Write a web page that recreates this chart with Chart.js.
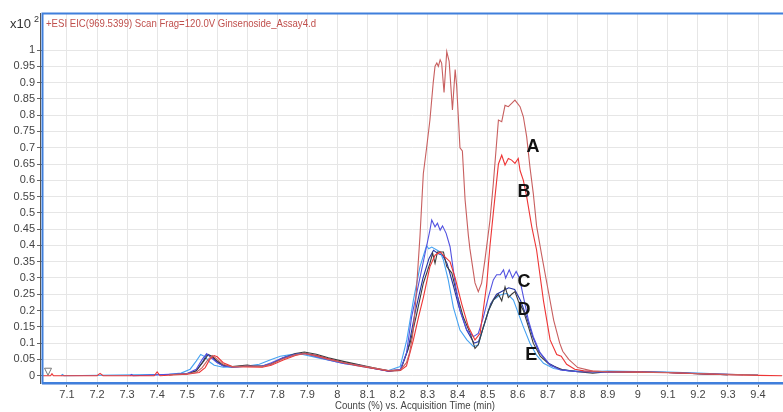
<!DOCTYPE html>
<html>
<head>
<meta charset="utf-8">
<script src="https://cdn.jsdelivr.net/npm/chart.js@4.4.1/dist/chart.umd.min.js"></script>
<style>
html,body{margin:0;padding:0;background:#fff;overflow:hidden;}
canvas{display:block;}
</style>
</head>
<body>
<canvas id="c" width="783" height="412"></canvas>
<script>
// ---- data (time in min, counts x10^2) ----
const xTicks = [7.1,7.2,7.3,7.4,7.5,7.6,7.7,7.8,7.9,8.0,8.1,8.2,8.3,8.4,8.5,8.6,8.7,8.8,8.9,9.0,9.1,9.2,9.3,9.4];
const yTicks = [0,0.05,0.1,0.15,0.2,0.25,0.3,0.35,0.4,0.45,0.5,0.55,0.6,0.65,0.7,0.75,0.8,0.85,0.9,0.95,1];

const traceA = [[7.44,0.003],[7.5,0.006],[7.53,0.01],[7.55,0.025],[7.57,0.05],[7.585,0.062],[7.6,0.05],[7.62,0.035],[7.65,0.027],[7.7,0.03],[7.75,0.028],[7.78,0.036],[7.82,0.052],[7.86,0.064],[7.89,0.068],[7.93,0.06],[7.97,0.05],[8.02,0.04],[8.07,0.032],[8.12,0.024],[8.17,0.016],[8.21,0.018],[8.23,0.04],[8.24,0.07],[8.25,0.12],[8.26,0.22],[8.275,0.43],[8.286,0.62],[8.297,0.70],[8.308,0.785],[8.319,0.90],[8.325,0.95],[8.331,0.96],[8.336,0.95],[8.342,0.97],[8.347,0.96],[8.355,0.87],[8.364,0.995],[8.372,0.965],[8.383,0.816],[8.392,0.94],[8.397,0.89],[8.408,0.70],[8.416,0.69],[8.425,0.54],[8.436,0.43],[8.441,0.39],[8.458,0.285],[8.469,0.258],[8.48,0.284],[8.491,0.355],[8.508,0.478],[8.519,0.59],[8.536,0.785],[8.547,0.78],[8.558,0.83],[8.569,0.826],[8.58,0.836],[8.591,0.846],[8.608,0.826],[8.619,0.795],[8.63,0.734],[8.641,0.64],[8.652,0.56],[8.663,0.46],[8.68,0.37],[8.70,0.27],[8.72,0.17],[8.74,0.10],[8.75,0.075],[8.77,0.05],[8.80,0.025],[8.85,0.014],[8.9,0.012],[9.0,0.011],[9.1,0.01],[9.2,0.007],[9.3,0.004],[9.4,0.002]];

const traceB = [[7.02,0],[7.045,0],[7.05,0.006],[7.055,0],[7.2,0],[7.21,0.007],[7.22,0],[7.39,0],[7.40,0.012],[7.41,0],[7.45,0.002],[7.5,0.005],[7.54,0.01],[7.56,0.025],[7.575,0.05],[7.59,0.062],[7.6,0.058],[7.62,0.04],[7.65,0.028],[7.7,0.027],[7.75,0.026],[7.78,0.032],[7.82,0.048],[7.86,0.062],[7.89,0.068],[7.93,0.062],[7.97,0.052],[8.02,0.04],[8.07,0.03],[8.12,0.022],[8.17,0.015],[8.21,0.016],[8.23,0.03],[8.253,0.11],[8.27,0.18],[8.286,0.24],[8.308,0.335],[8.325,0.37],[8.342,0.38],[8.358,0.365],[8.375,0.35],[8.392,0.30],[8.414,0.22],[8.436,0.15],[8.458,0.11],[8.475,0.13],[8.497,0.28],[8.508,0.40],[8.519,0.50],[8.536,0.65],[8.547,0.677],[8.558,0.647],[8.569,0.667],[8.58,0.662],[8.591,0.652],[8.602,0.667],[8.608,0.63],[8.619,0.60],[8.63,0.55],[8.647,0.457],[8.663,0.386],[8.686,0.23],[8.708,0.11],[8.73,0.065],[8.745,0.06],[8.763,0.035],[8.79,0.02],[8.82,0.015],[8.9,0.012],[9.0,0.011],[9.1,0.009],[9.2,0.006],[9.3,0.003],[9.4,0.001],[9.48,0]];

const traceC = [[7.31,0],[7.315,0.004],[7.32,0],[7.44,0.004],[7.5,0.007],[7.53,0.02],[7.55,0.05],[7.565,0.068],[7.58,0.055],[7.6,0.04],[7.62,0.03],[7.65,0.027],[7.7,0.029],[7.75,0.03],[7.78,0.04],[7.82,0.056],[7.86,0.066],[7.89,0.068],[7.93,0.058],[7.97,0.048],[8.02,0.038],[8.07,0.032],[8.12,0.022],[8.17,0.014],[8.21,0.02],[8.23,0.07],[8.247,0.18],[8.27,0.28],[8.292,0.376],[8.308,0.447],[8.314,0.478],[8.325,0.457],[8.333,0.468],[8.342,0.447],[8.35,0.46],[8.362,0.437],[8.375,0.396],[8.392,0.284],[8.408,0.20],[8.431,0.14],[8.453,0.12],[8.469,0.13],[8.486,0.18],[8.503,0.243],[8.519,0.294],[8.53,0.31],[8.542,0.31],[8.553,0.325],[8.56,0.30],[8.572,0.325],[8.583,0.30],[8.595,0.32],[8.606,0.30],[8.619,0.243],[8.636,0.17],[8.652,0.12],[8.675,0.07],[8.708,0.033],[8.742,0.018],[8.8,0.012],[8.9,0.011],[9.0,0.012],[9.1,0.01],[9.2,0.007],[9.3,0.004],[9.35,0.003]];

const traceD = [[7.44,0.003],[7.5,0.006],[7.53,0.015],[7.555,0.045],[7.57,0.065],[7.585,0.058],[7.6,0.045],[7.62,0.032],[7.65,0.028],[7.7,0.033],[7.72,0.03],[7.75,0.03],[7.78,0.037],[7.82,0.055],[7.86,0.068],[7.89,0.073],[7.93,0.066],[7.97,0.055],[8.02,0.044],[8.07,0.034],[8.12,0.024],[8.17,0.015],[8.21,0.016],[8.242,0.10],[8.264,0.19],[8.286,0.284],[8.308,0.345],[8.317,0.376],[8.325,0.345],[8.333,0.38],[8.345,0.38],[8.353,0.38],[8.364,0.335],[8.381,0.315],[8.397,0.253],[8.419,0.18],[8.442,0.13],[8.458,0.084],[8.469,0.095],[8.486,0.15],[8.503,0.20],[8.519,0.232],[8.536,0.25],[8.547,0.23],[8.558,0.273],[8.569,0.24],[8.58,0.25],[8.591,0.258],[8.602,0.23],[8.619,0.20],[8.636,0.15],[8.652,0.10],[8.675,0.06],[8.708,0.033],[8.75,0.018],[8.8,0.012],[8.85,0.008],[8.9,0.012],[9.0,0.011],[9.1,0.01],[9.2,0.006],[9.3,0.003]];

const traceE = [[7.08,0],[7.085,0.004],[7.09,0],[7.44,0.004],[7.48,0.008],[7.51,0.02],[7.53,0.045],[7.545,0.065],[7.56,0.058],[7.575,0.042],[7.59,0.032],[7.62,0.026],[7.65,0.027],[7.7,0.03],[7.74,0.035],[7.78,0.05],[7.81,0.06],[7.84,0.064],[7.87,0.068],[7.9,0.062],[7.94,0.054],[7.98,0.046],[8.02,0.038],[8.07,0.03],[8.12,0.022],[8.17,0.016],[8.209,0.028],[8.231,0.11],[8.253,0.232],[8.275,0.335],[8.297,0.40],[8.304,0.39],[8.314,0.395],[8.331,0.386],[8.342,0.38],[8.353,0.355],[8.369,0.294],[8.386,0.21],[8.408,0.14],[8.431,0.11],[8.453,0.089],[8.469,0.095],[8.486,0.15],[8.503,0.20],[8.519,0.232],[8.542,0.248],[8.564,0.253],[8.586,0.232],[8.603,0.19],[8.619,0.15],[8.641,0.10],[8.663,0.063],[8.686,0.038],[8.72,0.022],[8.77,0.015],[8.85,0.013],[8.9,0.014],[9.0,0.013],[9.1,0.011],[9.2,0.008],[9.3,0.004],[9.4,0.003]];

const traceF = [[7.44,0.003],[7.5,0.006],[7.53,0.015],[7.55,0.04],[7.565,0.065],[7.58,0.06],[7.6,0.042],[7.62,0.03],[7.65,0.026],[7.7,0.029],[7.75,0.029],[7.78,0.036],[7.82,0.054],[7.86,0.066],[7.89,0.069],[7.93,0.062],[7.97,0.052],[8.02,0.04],[8.07,0.033],[8.12,0.023],[8.17,0.014],[8.21,0.018],[8.235,0.08],[8.26,0.2],[8.285,0.3],[8.305,0.36],[8.32,0.385],[8.335,0.375],[8.35,0.37],[8.365,0.345],[8.385,0.28],[8.405,0.21],[8.43,0.14],[8.455,0.10],[8.47,0.105],[8.49,0.16],[8.51,0.22],[8.53,0.25],[8.55,0.26],[8.57,0.27],[8.59,0.265],[8.61,0.23],[8.63,0.18],[8.65,0.12],[8.67,0.075],[8.70,0.04],[8.74,0.02],[8.8,0.013],[8.9,0.012],[9.0,0.01],[9.1,0.01],[9.2,0.006],[9.3,0.003]];

const traceNames = ['A','B','C','D','E','F'];
const traceColors = ['#c85f5f','#ee3535','#5252e0','#3c3c3c','#45a2f2','#2233a8'];
const peakLabels = [['A',8.651,0.702],['B',8.621,0.564],['C',8.621,0.288],['D',8.621,0.202],['E',8.645,0.064]];
const titleText = '+ESI EIC(969.5399) Scan Frag=120.0V Ginsenoside_Assay4.d';
const xTitle = 'Counts (%) vs. Acquisition Time (min)';

const traces = [traceA, traceB, traceC, traceD, traceE, traceF];

const FONT = '"Liberation Sans", Arial, sans-serif';

function fitText(ctx, text, x, y, width) {
  const w = ctx.measureText(text).width;
  ctx.save();
  ctx.translate(x, y);
  ctx.scale(width / w, 1);
  ctx.fillText(text, 0, 0);
  ctx.restore();
}

const overlay = {
  id: 'overlay',
  afterDatasetsDraw(chart) {
    const ctx = chart.ctx, a = chart.chartArea;
    const xs = chart.scales.x, ys = chart.scales.y;
    ctx.save();
    // frame
    ctx.strokeStyle = '#555';
    ctx.lineWidth = 1;
    ctx.beginPath(); ctx.moveTo(a.left - 1.5, a.top); ctx.lineTo(a.left - 1.5, a.bottom + 2); ctx.stroke();
    ctx.strokeStyle = '#3f7fdc';
    ctx.lineWidth = 2;
    ctx.beginPath();
    ctx.moveTo(a.right + 5, a.top + 0.5);
    ctx.lineTo(a.left + 0.5, a.top + 0.5);
    ctx.lineTo(a.left + 0.5, a.bottom + 1);
    ctx.lineTo(a.right + 5, a.bottom + 1);
    ctx.stroke();
    ctx.strokeStyle = '#9ab8e8';
    ctx.lineWidth = 1;
    ctx.beginPath(); ctx.moveTo(a.left, a.bottom + 2.5); ctx.lineTo(a.right + 5, a.bottom + 2.5); ctx.stroke();
    // title
    ctx.fillStyle = '#c0504d';
    ctx.font = '11px ' + FONT;
    ctx.textBaseline = 'middle';
    ctx.textAlign = 'left';
    fitText(ctx, titleText, a.left + 4, a.top + 11, 270);
    // multiplier
    ctx.fillStyle = '#333';
    ctx.font = '12px ' + FONT;
    fitText(ctx, 'x10', 10, a.top + 12, 21);
    ctx.font = '9px ' + FONT;
    ctx.fillText('2', 34, a.top + 7);
    // x axis title
    ctx.fillStyle = '#444';
    ctx.font = '11px ' + FONT;
    ctx.textBaseline = 'middle';
    fitText(ctx, xTitle, 335, 406, 160);
    // marker
    ctx.strokeStyle = '#777';
    ctx.lineWidth = 1;
    ctx.beginPath();
    ctx.moveTo(a.left + 2.5, ys.getPixelForValue(0) - 7.5);
    ctx.lineTo(a.left + 9.5, ys.getPixelForValue(0) - 7.5);
    ctx.lineTo(a.left + 6, ys.getPixelForValue(0) - 0.5);
    ctx.closePath();
    ctx.stroke();
    // peak labels
    ctx.fillStyle = '#111';
    ctx.font = 'bold 18px ' + FONT;
    ctx.textAlign = 'center';
    ctx.textBaseline = 'middle';
    peakLabels.forEach(([t, px, py]) => {
      ctx.fillText(t, xs.getPixelForValue(px), ys.getPixelForValue(py));
    });
    ctx.restore();
  }
};

new Chart(document.getElementById('c'), {
  type: 'line',
  data: {
    datasets: traces.map((tr, i) => ({
      label: traceNames[i],
      data: tr.map(p => ({x: p[0], y: p[1]})),
      borderColor: traceColors[i],
      borderWidth: 1.1,
      pointRadius: 0,
      tension: 0,
      fill: false
    }))
  },
  options: {
    responsive: false,
    animation: false,
    devicePixelRatio: 1,
    layout: {padding: {top: 13, left: 0, right: 0, bottom: 0}},
    plugins: {legend: {display: false}, tooltip: {enabled: false}},
    scales: {
      x: {
        type: 'linear',
        min: 7.0168,
        max: 9.4832,
        afterBuildTicks: s => { s.ticks = xTicks.map(v => ({value: v})); },
        afterFit: s => { s.height = 30; },
        border: {display: false},
        grid: {color: '#e6e6e6', tickColor: '#666', tickLength: 5, drawTicks: true},
        ticks: {
          autoSkip: false, maxRotation: 0, padding: 1,
          color: '#444', font: {family: FONT, size: 11},
          callback: v => String(Math.round(v * 10) / 10)
        }
      },
      y: {
        type: 'linear',
        min: -0.0193,
        max: 1.1136,
        afterBuildTicks: s => { s.ticks = yTicks.map(v => ({value: v})); },
        afterFit: s => { s.width = 42; },
        border: {display: false},
        grid: {color: '#e6e6e6', tickColor: '#666', tickLength: 5, drawTicks: true},
        ticks: {
          autoSkip: false, padding: 2,
          color: '#444', font: {family: FONT, size: 11},
          callback: v => String(Math.round(v * 100) / 100)
        }
      }
    }
  },
  plugins: [overlay]
});
</script>
</body>
</html>
